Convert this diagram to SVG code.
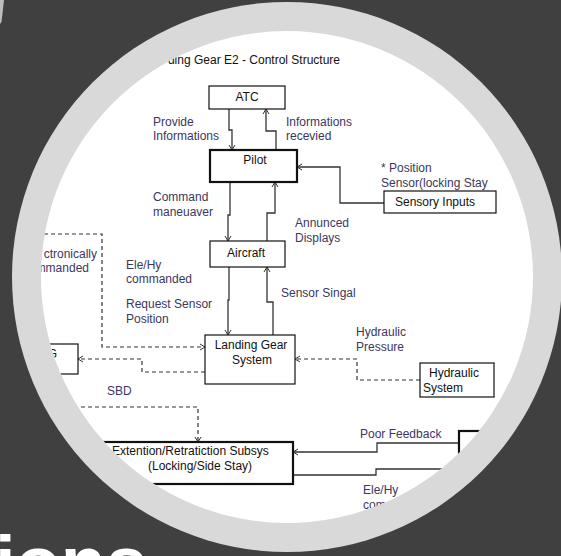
<svg xmlns="http://www.w3.org/2000/svg" width="561" height="556" viewBox="0 0 561 556">
<defs>
<clipPath id="disc"><circle cx="287" cy="277" r="246"/></clipPath>
<marker id="ah" viewBox="-7 -4 8 8" markerWidth="8" markerHeight="8" refX="0" refY="0" orient="auto" markerUnits="userSpaceOnUse">
<path d="M-5,-3 L0,0 L-5,3" fill="none" stroke="#333" stroke-width="1"/>
</marker>
<style>
.box{fill:#fff;stroke:#111;stroke-width:1.2}
.thick{fill:#fff;stroke:#111;stroke-width:2.2}
.bt{font-family:"Liberation Sans",Arial,sans-serif;font-size:12px;fill:#111}
.lb{font-family:"Liberation Sans",Arial,sans-serif;font-size:12px;fill:#3c3660}
.ln{fill:none;stroke:#333;stroke-width:1.3}
.dl{fill:none;stroke:#333;stroke-width:1.2;stroke-dasharray:4,3}
</style>
</defs>
<rect width="561" height="556" fill="#404040"/>
<path d="M0,0 L4,0 L1.5,22 L0,24 Z" fill="#bdbdbd"/>
<text x="-5" y="588" font-family="Liberation Sans,Arial,sans-serif" font-weight="bold" font-size="74" fill="#ffffff">ions</text>
<circle cx="287" cy="277" r="275" fill="#d9d9d9"/>
<circle cx="287" cy="277" r="246" fill="#ffffff"/>
<g clip-path="url(#disc)">
<text class="bt" x="340" y="64" text-anchor="end" fill="#222">ding Gear E2 - Control Structure</text>
<g id="connectors">
<path class="ln" d="M229,109 V130 H232 V150" marker-end="url(#ah)"/>
<path class="ln" d="M276,150 V131 H266 V109" marker-end="url(#ah)"/>
<path class="ln" d="M230,182 V215 H228 V241" marker-end="url(#ah)"/>
<path class="ln" d="M267,241 V213 H275 V182" marker-end="url(#ah)"/>
<path class="ln" d="M384,203 H340 V167 H297" marker-end="url(#ah)"/>
<path class="ln" d="M229,267 V300 H228 V335" marker-end="url(#ah)"/>
<path class="ln" d="M273,335 V302 H267 V267" marker-end="url(#ah)"/>
<path class="dl" d="M30,234 H102 V347 H205" marker-end="url(#ah)"/>
<path class="dl" d="M205,372 H142 V359 H78" marker-end="url(#ah)"/>
<path class="dl" d="M420,380 H357 V359 H295" marker-end="url(#ah)"/>
<path class="dl" d="M60,407 H198 V442" marker-end="url(#ah)"/>
<path class="ln" d="M459,443 H377 V452 H293" marker-end="url(#ah)"/>
<path class="ln" d="M293,475 H376 V469 H459"/>
</g>
<g id="labels">
<text class="lb" x="153" y="126">Provide</text>
<text class="lb" x="153" y="140">Informations</text>
<text class="lb" x="286" y="126">Informations</text>
<text class="lb" x="286" y="140">recevied</text>
<text class="lb" x="153" y="201">Command</text>
<text class="lb" x="153" y="216">maneuaver</text>
<text class="lb" x="295" y="227">Annunced</text>
<text class="lb" x="295" y="242">Displays</text>
<text class="lb" x="381" y="172">* Position</text>
<text class="lb" x="381" y="187">Sensor(locking Stay</text>
<text class="lb" x="97" y="258" text-anchor="end">ctronically</text>
<text class="lb" x="89" y="272" text-anchor="end">mmanded</text>
<text class="lb" x="126" y="269">Ele/Hy</text>
<text class="lb" x="126" y="283">commanded</text>
<text class="lb" x="126" y="308">Request Sensor</text>
<text class="lb" x="126" y="323">Position</text>
<text class="lb" x="281" y="297">Sensor Singal</text>
<text class="lb" x="356" y="336">Hydraulic</text>
<text class="lb" x="356" y="351">Pressure</text>
<text class="lb" x="107" y="395">SBD</text>
<text class="lb" x="360" y="438">Poor Feedback</text>
<text class="lb" x="363" y="494">Ele/Hy</text>
<text class="lb" x="363" y="509">com</text>
</g>
<g id="atc"><rect class="box" x="209" y="86" width="76" height="23"/><text class="bt" x="247" y="101" text-anchor="middle">ATC</text></g>
<g id="pilot"><rect class="thick" x="210" y="150" width="87" height="32"/><text class="bt" x="255" y="164" text-anchor="middle">Pilot</text></g>
<g id="sensory-inputs"><rect class="box" x="384" y="191" width="112" height="22"/><text class="bt" x="435" y="206" text-anchor="middle">Sensory Inputs</text></g>
<g id="aircraft"><rect class="box" x="210" y="241" width="75" height="26"/><text class="bt" x="246" y="257" text-anchor="middle">Aircraft</text></g>
<g id="landing-gear-system"><rect class="box" x="205" y="335" width="90" height="49"/><text class="bt" x="251" y="349" text-anchor="middle">Landing Gear</text><text class="bt" x="252" y="364" text-anchor="middle">System</text></g>
<g id="lg-box"><rect class="box" x="20" y="344" width="58" height="30"/><text class="bt" x="57" y="358" text-anchor="end">G</text></g>
<g id="hydraulic-system"><rect class="box" x="420" y="363" width="74" height="34"/><text class="bt" x="429" y="377">Hydraulic</text><text class="bt" x="423" y="392">System</text></g>
<g id="extension-subsys"><rect class="thick" x="102" y="442" width="191" height="42"/><text class="bt" x="112" y="455">Extention/Retratiction Subsys</text><text class="bt" x="148" y="470">(Locking/Side Stay)</text></g>
<g id="right-box"><rect class="thick" x="459" y="431" width="90" height="60"/></g>
</g>
</svg>
